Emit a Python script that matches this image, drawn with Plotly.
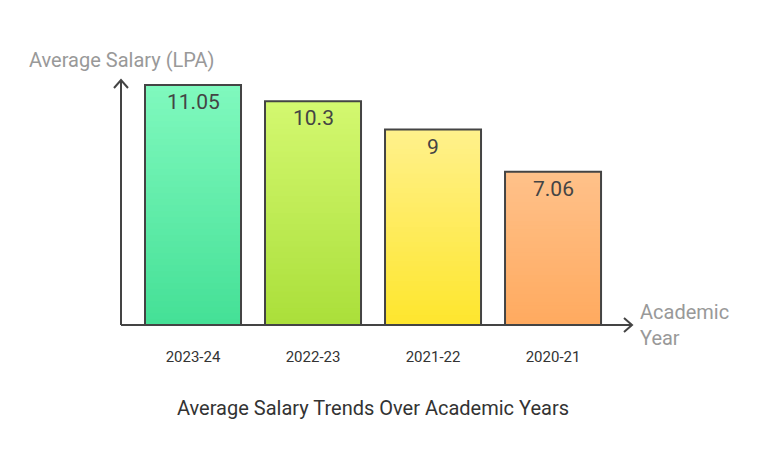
import plotly.graph_objects as go

categories = ["2023-24", "2022-23", "2021-22", "2020-21"]
salaries = [11.05, 10.3, 9, 7.06]
value_labels = ["11.05", "10.3", "9", "7.06"]
top_colors = [(128, 249, 190), (212, 248, 112), (255, 241, 140), (255, 193, 138)]
bottom_colors = [(68, 224, 150), (170, 223, 58), (254, 230, 45), (255, 170, 95)]

title = "Average Salary Trends Over Academic Years"
y_label = "Average Salary (LPA)"
x_label = "Academic<br>Year"

W, H = 770, 470
ml, mr, mt, mb = 121, 138, 80, 145
pw, ph = W - ml - mr, H - mt - mb
ymax = 11.28

fig = go.Figure()
N = 40
for k in range(N):
    f = (k + 0.5) / N
    cols = []
    for tc, bc in zip(top_colors, bottom_colors):
        c = tuple(round(bc[i] + (tc[i] - bc[i]) * f) for i in range(3))
        cols.append("rgb(%d,%d,%d)" % c)
    fig.add_trace(go.Bar(
        x=categories, y=[v * (1 - k / N) for v in salaries], base=[v * k / N for v in salaries],
        marker=dict(color=cols, line=dict(width=0)), width=0.8,
        hoverinfo="skip", showlegend=False))
fig.add_trace(go.Bar(
    x=categories, y=salaries, width=0.8,
    marker=dict(color="rgba(0,0,0,0)", line=dict(color="#444444", width=2)),
    showlegend=False))

for c, v, t in zip(categories, salaries, value_labels):
    fig.add_annotation(x=c, y=v, text=t, showarrow=False, yshift=-17, yanchor="middle",
                       font=dict(size=21, color="#444444", family="Roboto"))

lc = "#444444"
fig.add_shape(type="line", xref="paper", yref="paper", x0=0, y0=0, x1=0, y1=1,
              line=dict(color=lc, width=2))
fig.add_shape(type="line", xref="paper", yref="paper", x0=0, y0=0, x1=1, y1=0,
              line=dict(color=lc, width=2))
dx, dy = 7 / pw, 8 / ph
fig.add_shape(type="path", xref="paper", yref="paper",
              path=f"M {-dx},{1-dy} L 0,1 L {dx},{1-dy}", line=dict(color=lc, width=2))
dx2, dy2 = 8 / pw, 7 / ph
fig.add_shape(type="path", xref="paper", yref="paper",
              path=f"M {1-dx2},{dy2} L 1,0 L {1-dx2},{-dy2}", line=dict(color=lc, width=2))

fig.add_annotation(xref="paper", yref="paper", x=-94 / pw, y=1 + 20 / ph, text=y_label,
                   showarrow=False, xanchor="left", yanchor="middle",
                   font=dict(size=20, color="#999999", family="Roboto"))
fig.add_annotation(xref="paper", yref="paper", x=1 + 6 / pw, y=0, text=x_label,
                   showarrow=False, xanchor="left", yanchor="middle", align="left",
                   font=dict(size=20, color="#999999", family="Roboto"))
fig.add_annotation(xref="paper", yref="paper", x=(373 - ml) / pw, y=-(408 - (mt + ph)) / ph,
                   text=title, showarrow=False, xanchor="center", yanchor="middle",
                   font=dict(size=20, color="#333333", family="Roboto"))

fig.update_layout(
    width=W, height=H, margin=dict(l=ml, r=mr, t=mt, b=mb),
    paper_bgcolor="white", plot_bgcolor="white", barmode="overlay",
    font=dict(family="Roboto"),
    xaxis=dict(range=[-0.6, 3.658], showgrid=False, zeroline=False, showline=False,
               ticks="", tickfont=dict(size=15, color="#333333"), ticklabelstandoff=21),
    yaxis=dict(range=[0, ymax], showgrid=False, zeroline=False, showline=False,
               showticklabels=False),
)
fig.write_html("out.html")
